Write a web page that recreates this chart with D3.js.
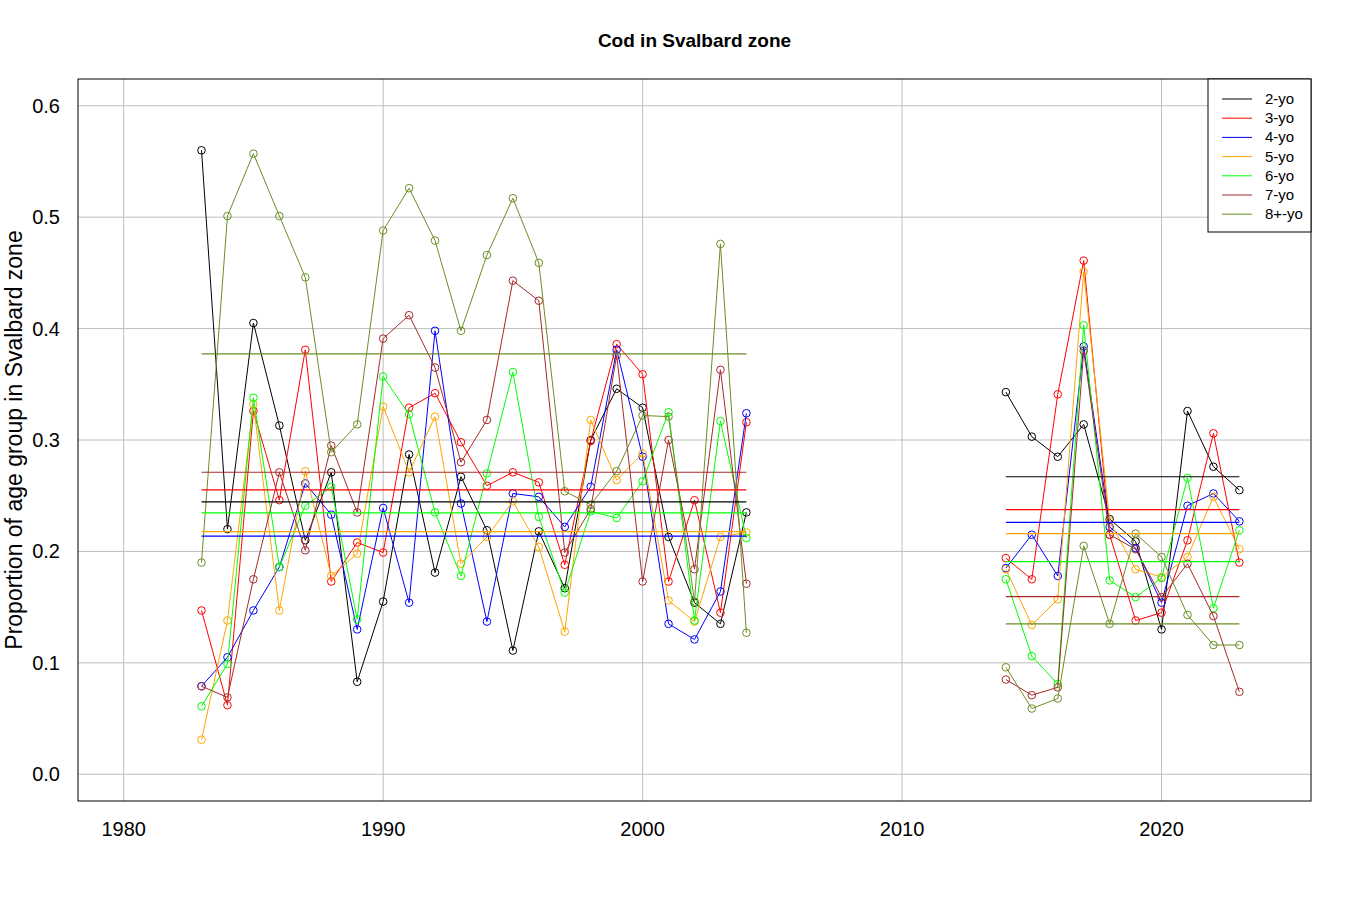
<!DOCTYPE html>
<html>
<head>
<meta charset="utf-8">
<script src="https://cdn.jsdelivr.net/npm/d3@7"></script>
<style>
  body { margin: 0; background: #fff; }
  text { font-family: "Liberation Sans", Arial, sans-serif; }
</style>
</head>
<body>
<svg width="1352" height="899"></svg>
<script>
// survey years, two periods
const years1 = [1983, 1984, 1985, 1986, 1987, 1988, 1989, 1990, 1991, 1992, 1993,
                1994, 1995, 1996, 1997, 1998, 1999, 2000, 2001, 2002, 2003, 2004];
const years2 = [2014, 2015, 2016, 2017, 2018, 2019, 2020, 2021, 2022, 2023];

const ageGroups = ["2-yo", "3-yo", "4-yo", "5-yo", "6-yo", "7-yo", "8+-yo"];
const colors = ["black", "red", "blue", "orange", "#00ff00", "brown", "olivedrab"];

const xTicks = [1980, 1990, 2000, 2010, 2020];
const yTicks = [0, 0.1, 0.2, 0.3, 0.4, 0.5, 0.6];

// proportions, 1983-2004
const age2a = [0.56, 0.22, 0.405, 0.313, 0.21, 0.271, 0.083, 0.155, 0.287, 0.181, 0.267,
               0.219, 0.111, 0.218, 0.167, 0.30, 0.346, 0.329, 0.213, 0.154, 0.135, 0.235];
const age3a = [0.147, 0.062, 0.326, 0.246, 0.381, 0.173, 0.208, 0.199, 0.329, 0.342, 0.298,
               0.259, 0.271, 0.262, 0.188, 0.299, 0.386, 0.359, 0.173, 0.246, 0.145, 0.316];
const age4a = [0.079, 0.105, 0.147, 0.186, 0.261, 0.233, 0.130, 0.239, 0.154, 0.398, 0.243,
               0.137, 0.252, 0.249, 0.222, 0.258, 0.381, 0.285, 0.135, 0.121, 0.164, 0.324];
const age5a = [0.031, 0.138, 0.332, 0.147, 0.272, 0.178, 0.198, 0.330, 0.271, 0.321, 0.189,
               0.213, 0.245, 0.204, 0.128, 0.318, 0.264, 0.288, 0.156, 0.137, 0.213, 0.217];
const age6a = [0.061, 0.099, 0.338, 0.186, 0.241, 0.258, 0.139, 0.357, 0.323, 0.235, 0.178,
               0.270, 0.361, 0.231, 0.163, 0.236, 0.230, 0.263, 0.325, 0.138, 0.317, 0.212];
const age7a = [0.079, 0.069, 0.175, 0.271, 0.201, 0.295, 0.235, 0.391, 0.412, 0.365, 0.280,
               0.318, 0.443, 0.425, 0.199, 0.238, 0.376, 0.173, 0.300, 0.184, 0.363, 0.171];
const age8a = [0.190, 0.501, 0.557, 0.501, 0.446, 0.289, 0.314, 0.488, 0.526, 0.479, 0.398,
               0.466, 0.517, 0.459, 0.254, 0.242, 0.272, 0.322, 0.321, 0.155, 0.476, 0.127];

// proportions, 2014-2023
const age2b = [0.343, 0.303, 0.285, 0.314, 0.229, 0.209, 0.130, 0.326, 0.276, 0.255];
const age3b = [0.194, 0.175, 0.341, 0.461, 0.215, 0.138, 0.145, 0.210, 0.306, 0.190];
const age4b = [0.185, 0.215, 0.178, 0.384, 0.222, 0.203, 0.154, 0.241, 0.252, 0.227];
const age5b = [0.184, 0.134, 0.157, 0.451, 0.227, 0.184, 0.177, 0.195, 0.249, 0.202];
const age6b = [0.175, 0.106, 0.081, 0.403, 0.174, 0.159, 0.176, 0.266, 0.149, 0.219];
const age7b = [0.085, 0.071, 0.078, 0.380, 0.215, 0.202, 0.159, 0.189, 0.142, 0.074];
const age8b = [0.096, 0.059, 0.068, 0.205, 0.135, 0.216, 0.195, 0.143, 0.116, 0.116];

const early = [age2a, age3a, age4a, age5a, age6a, age7a, age8a];
const late = [age2b, age3b, age4b, age5b, age6b, age7b, age8b];

const svg = d3.select("svg");
const margin = { top: 79, right: 41, bottom: 98, left: 78 };
const width = 1352 - margin.left - margin.right;
const height = 899 - margin.top - margin.bottom;

// R style 4% padding around xlim 1980-2024, ylim 0-0.6
const x = d3.scaleLinear().domain([1980 - 44 * 0.04, 2024 + 44 * 0.04]).range([0, width]);
const y = d3.scaleLinear().domain([-0.024, 0.624]).range([height, 0]);

const g = svg.append("g")
    .attr("transform", "translate(" + margin.left + "," + margin.top + ")");

// grid
g.selectAll(".vgrid").data(xTicks).enter().append("line")
    .attr("x1", d => x(d)).attr("x2", d => x(d))
    .attr("y1", 0).attr("y2", height)
    .attr("stroke", "#bebebe").attr("stroke-width", 1);
g.selectAll(".hgrid").data(yTicks).enter().append("line")
    .attr("x1", 0).attr("x2", width)
    .attr("y1", d => y(d)).attr("y2", d => y(d))
    .attr("stroke", "#bebebe").attr("stroke-width", 1);

// tick labels
g.selectAll(".xlab").data(xTicks).enter().append("text")
    .attr("x", d => x(d)).attr("y", height + 35)
    .attr("text-anchor", "middle").attr("font-size", 20)
    .text(d => d);
g.selectAll(".ylab").data(yTicks).enter().append("text")
    .attr("x", -18).attr("y", d => y(d) + 7)
    .attr("text-anchor", "end").attr("font-size", 20)
    .text(d => d.toFixed(1));

const line = d3.line().x(d => x(d[0])).y(d => y(d[1]));

function drawPeriod(years, sets) {
    sets.forEach((vals, i) => {
        const pts = years.map((yr, j) => [yr, vals[j]]);
        g.append("path")
            .attr("d", line(pts))
            .attr("fill", "none")
            .attr("stroke", colors[i])
            .attr("stroke-width", 1);
        g.selectAll(null).data(pts).enter().append("circle")
            .attr("cx", d => x(d[0])).attr("cy", d => y(d[1]))
            .attr("r", 3.8)
            .attr("fill", "none")
            .attr("stroke", colors[i])
            .attr("stroke-width", 1);
    });
    // period means
    sets.forEach((vals, i) => {
        const m = d3.mean(vals);
        g.append("line")
            .attr("x1", x(years[0])).attr("x2", x(years[years.length - 1]))
            .attr("y1", y(m)).attr("y2", y(m))
            .attr("stroke", colors[i]).attr("stroke-width", 1.2);
    });
}

drawPeriod(years1, early);
drawPeriod(years2, late);

// frame
g.append("rect")
    .attr("width", width).attr("height", height)
    .attr("fill", "none").attr("stroke", "black").attr("stroke-width", 1);

// legend
const lg = g.append("g").attr("transform", "translate(" + (width - 103) + ",0)");
lg.append("rect")
    .attr("width", 103).attr("height", 153)
    .attr("fill", "white").attr("stroke", "black").attr("stroke-width", 1);
ageGroups.forEach((name, i) => {
    const ly = 20 + i * 19.2;
    lg.append("line")
        .attr("x1", 14).attr("x2", 44)
        .attr("y1", ly).attr("y2", ly)
        .attr("stroke", colors[i]).attr("stroke-width", 1);
    lg.append("text")
        .attr("x", 57).attr("y", ly + 5)
        .attr("font-size", 15)
        .text(name);
});

// titles
svg.append("text")
    .attr("x", margin.left + width / 2).attr("y", 47)
    .attr("text-anchor", "middle")
    .attr("font-size", 19).attr("font-weight", "bold")
    .text("Cod in Svalbard zone");
svg.append("text")
    .attr("transform", "translate(22," + (margin.top + height / 2) + ") rotate(-90)")
    .attr("text-anchor", "middle")
    .attr("font-size", 23)
    .text("Proportion of age group in Svalbard zone");
</script>
</body>
</html>
